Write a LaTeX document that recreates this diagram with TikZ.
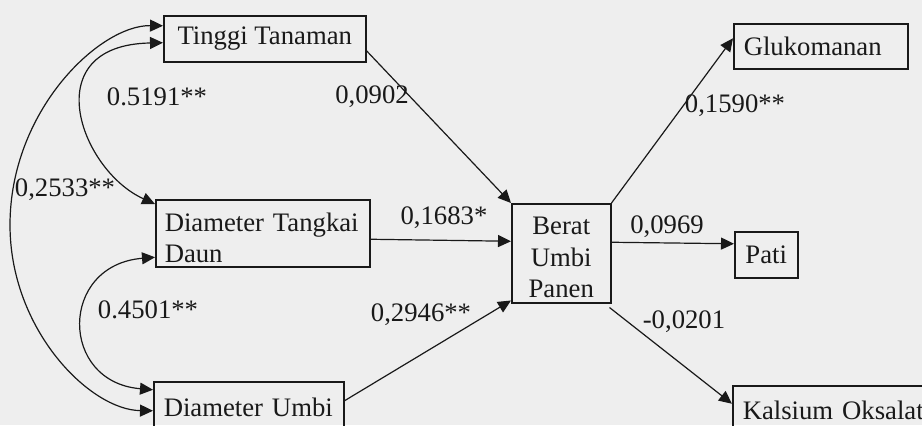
\documentclass[tikz,border=0pt]{standalone}
\usepackage{fontspec}
\setmainfont{Liberation Serif}
\usetikzlibrary{arrows.meta,calc}
\definecolor{bg}{RGB}{238,238,238}
\definecolor{ink}{RGB}{25,25,25}
\newcommand{\diagfont}{\fontsize{13.35pt}{15.8pt}\selectfont}
\begin{document}
\begin{tikzpicture}[x=0.5pt,y=-0.5pt,
  box/.style={draw=ink,line width=0.75pt,rectangle,inner sep=0pt,anchor=north west,text=ink,font=\diagfont},
  conn/.style={draw=ink,line width=0.6pt,-{Triangle[length=6.5pt,width=6pt]}},
  biconn/.style={draw=ink,line width=0.6pt,{Triangle[length=6.5pt,width=6pt]}-{Triangle[length=6.5pt,width=6pt]}},
  lbl/.style={text=ink,font=\diagfont,inner sep=0pt}]
\useasboundingbox (0,0) rectangle (922,425);
\fill[bg] (0,0) rectangle (922,425);
\clip (0,0) rectangle (922,425);
% boxes
\node[box,minimum width=101pt,minimum height=23pt] (tt) at (163,15) {Tinggi Tanaman};
\node[box,minimum width=107pt,minimum height=33.5pt,inner xsep=4.5pt,text width=98pt,align=left] (dtd) at (155,199) {\rule{0pt}{14pt}Diameter Tangkai\\Daun};
\node[box,minimum width=95pt,minimum height=26pt,inner xsep=5pt,text width=85pt,align=left] (du) at (153,381) {Diameter Umbi};
\node[box,minimum width=49.5pt,minimum height=49.5pt,align=center] (bup) at (511,203) {\rule{0pt}{13pt}Berat\\Umbi\\Panen};
\node[box,minimum width=87pt,minimum height=22.5pt,inner xsep=5pt,text width=77pt,align=left] (gl) at (733,23) {Glukomanan};
\node[box,minimum width=31.5pt,minimum height=23pt] (pati) at (734,231) {Pati};
\node[box,minimum width=104pt,minimum height=25pt,inner xsep=5pt,text width=94pt,align=left] (ko) at (732,385) {Kalsium Oksalat};
% straight connectors
\draw[conn] ($(tt.east)+(0,12)$) -- (bup.north west);
\draw[conn] ($(dtd.east)+(0,6)$) -- ($(bup.west)+(0,-12)$);
\draw[conn] ($(du.east)+(0,-7)$) -- ($(bup.south west)+(0,-3)$);
\draw[conn] (bup.north east) -- ($(gl.west)+(0,-8)$);
\draw[conn] ($(bup.east)+(0,-11)$) -- ($(pati.west)+(0,-11)$);
\draw[conn] ($(bup.south east)+(-2,4)$) -- ($(ko.west)+(0,-7)$);
% curved correlations
\coordinate (bend) at (10,225);
\draw[biconn] ($(tt.west)+(0,-13)$) .. controls (100,25) and (10,110) .. (bend) .. controls (10,330) and (90,410) .. ($(du.west)+(0,3)$);
\draw[biconn] ($(tt.west)+(0,4)$) .. controls (35,45) and (80,170) .. ($(dtd.north west)+(0,5)$);
\draw[biconn] ($(dtd.west)+(0,24)$) .. controls (59,265) and (59,382) .. ($(du.west)+(0,-18)$);
% labels
\node[lbl] (l1) at (157,97) {0.5191**};
\node[lbl] (l2) at (372,97) {0,0902};
\node[lbl] (l3) at (65,190) {0,2533**};
\node[lbl] (l4) at (444,218) {0,1683*};
\node[lbl] (l5) at (667,227) {0,0969};
\node[lbl] (l6) at (421,315) {0,2946**};
\node[lbl] (l7) at (148,310) {0.4501**};
\node[lbl] (l8) at (684,322) {-0,0201};
\node[lbl] (l9) at (735,106) {0,1590**};
\end{tikzpicture}
\end{document}
